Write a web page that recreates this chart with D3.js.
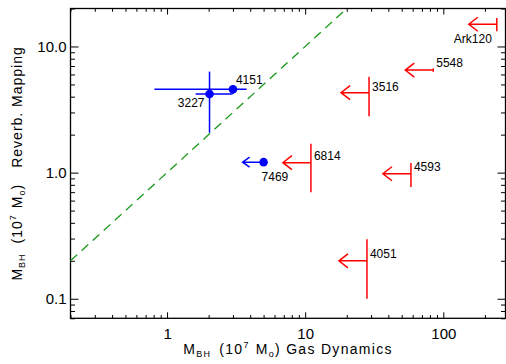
<!DOCTYPE html>
<html>
<head>
<meta charset="utf-8">
<script src="https://cdn.jsdelivr.net/npm/d3@7"></script>
<style>
body { margin: 0; background: #fff; }
text { font-family: "Liberation Sans", Arial, Helvetica, sans-serif; fill: #000; }
</style>
</head>
<body>
<div id="chart"></div>
<script>
// measured black hole masses (10^7 Msun), blue points
var blueNames = ["3227", "4151", "7469"];
var blueX = [2.03, 3.0, 5.0];
var blueXLo = [1.61, 0.81, null];
var blueXHi = [2.98, 3.77, null];
var blueY = [4.2, 4.58, 1.21];
var blueYLo = [2.07, 4.2, null];
var blueYHi = [6.32, 4.96, null];
var blueUpper = [false, false, true];

// gas dynamics upper limits, red arrows
var redNames = ["Ark120", "5548", "3516", "6814", "4593", "4051"];
var redX = [244, 84.6, 29.0, 11.0, 58.3, 28.0];
var redY = [15.0, 6.5, 4.3, 1.2, 0.98, 0.2];
var redYLo = [13.2, 6.3, 2.8, 0.70, 0.77, 0.10];
var redYHi = [16.8, 6.7, 5.75, 1.69, 1.19, 0.296];

var xMajor = [1, 10, 100];
var xTickLabels = ["1", "10", "100"];
var yMajor = [0.1, 1, 10];
var yTickLabels = ["0.1", "1.0", "10.0"];

var width = 506,
	height = 364,
	pLeft = 70.5,
	pRight = 505.5,
	pTop = 8.5,
	pBottom = 318.3;

var svg = d3.select("#chart").append("svg")
	.attr("width", width)
	.attr("height", height);

var x = d3.scaleLog().domain([0.2, 282]).range([pLeft, pRight]);
var y = d3.scaleLog().domain([0.07, 20]).range([pBottom, pTop]);

var isMajor = function(list, v) {
	return list.some(function(m) { return Math.abs(m - v) / m < 1e-6; });
};
var labelFor = function(list, labels) {
	return function(v) {
		for (var i = 0; i < list.length; i++) {
			if (Math.abs(list[i] - v) / list[i] < 1e-6) return labels[i];
		}
		return "";
	};
};

// axes, ticks pointing inward like the IDL plot
var fixTicks = function(sel, list, major, minor, dir) {
	sel.select(".domain").remove();
	sel.selectAll(".tick line")
		.attr("stroke", "#000")
		.attr("stroke-width", 1)
		.each(function(d) {
			var len = isMajor(list, d) ? major : minor;
			var l = d3.select(this);
			if (dir == "x") l.attr("y2", len); else l.attr("x2", len);
		});
};

var gxb = svg.append("g").attr("transform", "translate(0," + pBottom + ")")
	.call(d3.axisBottom(x).tickValues(x.ticks()).tickSizeInner(-6).tickSizeOuter(0)
		.tickPadding(10).tickFormat(labelFor(xMajor, xTickLabels)));
fixTicks(gxb, xMajor, -6, -3.3, "x");

var gxt = svg.append("g").attr("transform", "translate(0," + pTop + ")")
	.call(d3.axisTop(x).tickValues(x.ticks()).tickSizeInner(-6).tickSizeOuter(0).tickFormat(""));
fixTicks(gxt, xMajor, 6, 3.3, "x");

var gyl = svg.append("g").attr("transform", "translate(" + pLeft + ",0)")
	.call(d3.axisLeft(y).tickValues(y.ticks()).tickSizeInner(-8).tickSizeOuter(0)
		.tickPadding(4).tickFormat(labelFor(yMajor, yTickLabels)));
fixTicks(gyl, yMajor, 8, 4.5, "y");

var gyr = svg.append("g").attr("transform", "translate(" + pRight + ",0)")
	.call(d3.axisRight(y).tickValues(y.ticks()).tickSizeInner(-8).tickSizeOuter(0).tickFormat(""));
fixTicks(gyr, yMajor, -8, -4.5, "y");

svg.selectAll(".tick text").style("font-size", "15px").style("font-family", "'Liberation Sans', Arial, sans-serif");

svg.append("rect")
	.attr("x", pLeft).attr("y", pTop)
	.attr("width", pRight - pLeft).attr("height", pBottom - pTop)
	.style("fill", "none").style("stroke", "#000").style("stroke-width", 1.3);

// one-to-one line
var plot = svg.append("g");
plot.append("path")
	.attr("d", d3.line()([[x(0.2), y(0.2)], [x(20), y(20)]]))
	.style("fill", "none")
	.style("stroke", "#1a9a1a")
	.style("stroke-width", 1.3)
	.style("stroke-dasharray", "9,6");

var BLUE = "#0000ff", RED = "#ff0000";

// blue points with error bars
blueNames.forEach(function(name, i) {
	var px = x(blueX[i]), py = y(blueY[i]);
	if (blueXLo[i] != null) {
		plot.append("line")
			.attr("x1", x(blueXLo[i])).attr("x2", x(blueXHi[i]))
			.attr("y1", py).attr("y2", py)
			.style("stroke", BLUE).style("stroke-width", 1.5);
	}
	if (blueYLo[i] != null) {
		plot.append("line")
			.attr("x1", px).attr("x2", px)
			.attr("y1", y(blueYLo[i])).attr("y2", y(blueYHi[i]))
			.style("stroke", BLUE).style("stroke-width", 1.5);
	}
	if (blueUpper[i]) {
		var tip = px - 21;
		plot.append("path")
			.attr("d", "M" + px + "," + py + "H" + tip + "M" + (tip + 7) + "," + (py - 5) + "L" + tip + "," + py + "L" + (tip + 7) + "," + (py + 5))
			.style("fill", "none").style("stroke", BLUE).style("stroke-width", 1.5);
	}
	plot.append("circle")
		.attr("cx", px).attr("cy", py).attr("r", 4.3)
		.style("fill", BLUE);
});

// red upper limits
redNames.forEach(function(name, i) {
	var px = x(redX[i]), py = y(redY[i]);
	var tip = px - 28;
	plot.append("line")
		.attr("x1", px).attr("x2", px)
		.attr("y1", y(redYLo[i])).attr("y2", y(redYHi[i]))
		.style("stroke", RED).style("stroke-width", 1.5);
	plot.append("path")
		.attr("d", "M" + px + "," + py + "H" + tip + "M" + (tip + 9) + "," + (py - 7) + "L" + tip + "," + py + "L" + (tip + 9) + "," + (py + 7))
		.style("fill", "none").style("stroke", RED).style("stroke-width", 1.5);
});

// object labels, offsets from their marks
var labelOffsets = {
	"3227": [-5, 13, "end"],
	"4151": [3, -5, "start"],
	"7469": [-2, 19, "start"],
	"Ark120": [-43, 19, "start"],
	"5548": [3, -3, "start"],
	"3516": [3, -2, "start"],
	"6814": [3, -3, "start"],
	"4593": [3, -3, "start"],
	"4051": [3, -2.5, "start"]
};
var addLabel = function(name, px, py) {
	var o = labelOffsets[name];
	plot.append("text")
		.attr("x", px + o[0]).attr("y", py + o[1])
		.style("font-size", "12px")
		.style("text-anchor", o[2])
		.text(name);
};
blueNames.forEach(function(n, i) { addLabel(n, x(blueX[i]), y(blueY[i])); });
redNames.forEach(function(n, i) { addLabel(n, x(redX[i]), y(redY[i])); });

// axis titles with sub/superscripts
var title = function(t, parts) {
	parts.forEach(function(p) {
		var ts = t.append("tspan").text(p[0]);
		if (p[1]) ts.style("font-size", p[1] + "px");
		if (p[2]) ts.attr("dy", p[2]);
		if (p[3]) ts.attr("dx", p[3]);
	});
};

var xt = svg.append("text")
	.attr("x", (pLeft + pRight) / 2).attr("y", 354)
	.style("font-size", "14px").style("letter-spacing", "1.3px")
	.style("text-anchor", "middle");
title(xt, [["M"], ["BH", 9, 3], ["(10", null, -3, 8], ["7", 9, -6], ["M", null, 6, 6], ["o", 9, 3], [")", null, -3], [" Gas Dynamics"]]);

var yt = svg.append("text")
	.attr("transform", "translate(22," + (pTop + pBottom) / 2 + ") rotate(-90)")
	.style("font-size", "14px").style("letter-spacing", "1px")
	.style("text-anchor", "middle");
title(yt, [["M"], ["BH", 9, 3], ["(10", null, -3, 10], ["7", 9, -6], ["M", null, 6, 6], ["o", 9, 3], [")", null, -3], ["Reverb. Mapping", null, null, 16]]);
</script>
</body>
</html>
